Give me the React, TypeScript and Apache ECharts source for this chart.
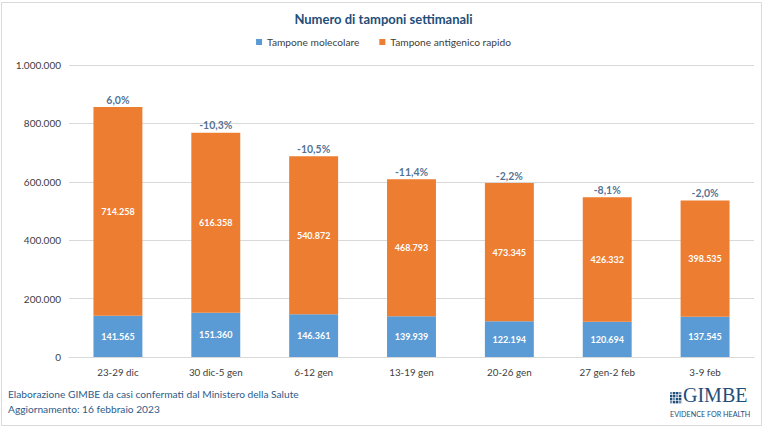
import React, { useEffect, useRef } from "react";
import * as echarts from "echarts";

const categories = ["23-29 dic", "30 dic-5 gen", "6-12 gen", "13-19 gen", "20-26 gen", "27 gen-2 feb", "3-9 feb"];
const molecolare = [141565, 151360, 146361, 139939, 122194, 120694, 137545];
const antigenico = [714258, 616358, 540872, 468793, 473345, 426332, 398535];
const variazione = ["6,0%", "-10,3%", "-10,5%", "-11,4%", "-2,2%", "-8,1%", "-2,0%"];
const yTicks = [0, 200000, 400000, 600000, 800000, 1000000];

const FONT = "Lato, 'Open Sans', sans-serif";
const fmt = (v: number) => v.toString().replace(/\B(?=(\d{3})+(?!\d))/g, ".");

export default function App() {
  const ref = useRef<HTMLDivElement>(null);
  useEffect(() => {
    document.body.style.margin = "0";
    const chart = echarts.init(ref.current!, undefined, { renderer: "svg" });
    const totals = molecolare.map((m, i) => m + antigenico[i]);
    const logoCells: any[] = [];
    for (let r = 0; r < 4; r++) {
      for (let c = 0; c < 4; c++) {
        logoCells.push({
          type: "rect",
          shape: { x: 670 + c * 3, y: 392 + r * 3, width: 2.4, height: 2.4 },
          style: { fill: (r + c) % 3 === 0 ? "#6F8FB5" : "#1F4E79" },
        });
      }
    }
    chart.setOption({
      animation: false,
      backgroundColor: "#ffffff",
      textStyle: { fontFamily: FONT },
      title: {
        text: "Numero di tamponi settimanali",
        left: "center",
        top: 7,
        textStyle: { fontSize: 13, fontWeight: "bold", color: "#1F4E79", fontFamily: FONT },
      },
      legend: {
        top: 32,
        left: "center",
        itemWidth: 6,
        itemHeight: 6,
        itemGap: 20,
        icon: "rect",
        textStyle: { fontSize: 10.2, color: "#404040", fontFamily: FONT },
        data: ["Tampone molecolare", "Tampone antigenico rapido"],
      },
      grid: { left: 69, right: 13, top: 65, bottom: 70, containLabel: false },
      xAxis: {
        type: "category",
        data: categories,
        axisLine: { lineStyle: { color: "#D9D9D9" } },
        axisTick: { show: false },
        axisLabel: { fontSize: 9.8, color: "#404040", margin: 10, fontFamily: FONT },
      },
      yAxis: {
        type: "value",
        min: 0,
        max: 1000000,
        interval: 200000,
        axisLine: { show: false },
        axisTick: { show: false },
        splitLine: { lineStyle: { color: "#D9D9D9" } },
        axisLabel: {
          fontSize: 10,
          color: "#404040",
          margin: 8,
          fontFamily: FONT,
          formatter: (v: number) => (yTicks.includes(v) ? fmt(v) : ""),
        },
      },
      series: [
        {
          name: "Tampone molecolare",
          type: "bar",
          stack: "t",
          barWidth: "50%",
          data: molecolare,
          itemStyle: { color: "#5B9BD5" },
          label: {
            show: true,
            position: "inside",
            color: "#ffffff",
            fontSize: 9,
            fontWeight: "bold",
            fontFamily: FONT,
            formatter: (p: any) => fmt(p.value),
          },
        },
        {
          name: "Tampone antigenico rapido",
          type: "bar",
          stack: "t",
          barWidth: "50%",
          data: antigenico,
          itemStyle: { color: "#ED7D31" },
          label: {
            show: true,
            position: "inside",
            color: "#ffffff",
            fontSize: 9,
            fontWeight: "bold",
            fontFamily: FONT,
            formatter: (p: any) => fmt(p.value),
          },
        },
        {
          name: "variazione",
          type: "scatter",
          data: totals,
          symbolSize: 0,
          silent: true,
          label: {
            show: true,
            position: "top",
            distance: 2,
            color: "#1F4E79",
            fontSize: 10.5,
            fontWeight: "bold",
            fontFamily: FONT,
            formatter: (p: any) => variazione[p.dataIndex],
          },
        },
      ],
      graphic: [
        {
          type: "rect",
          shape: { x: 1.5, y: 2.5, width: 760, height: 423 },
          style: { fill: "none", stroke: "#D9D9D9", lineWidth: 1 },
          silent: true,
        },
        {
          type: "text",
          x: 8,
          y: 389,
          style: { text: "Elaborazione GIMBE da casi confermati dal Ministero della Salute", fontSize: 10.2, fill: "#2E5C8A", fontFamily: FONT },
        },
        {
          type: "text",
          x: 8,
          y: 404,
          style: { text: "Aggiornamento: 16 febbraio 2023", fontSize: 10.2, fill: "#2E5C8A", fontFamily: FONT },
        },
        ...logoCells,
        {
          type: "text",
          x: 683,
          y: 386,
          style: { text: "GIMBE", fontSize: 20, lineHeight: 17, fill: "#1F4E79", fontFamily: "'Liberation Serif', 'DejaVu Serif', serif" },
        },
        {
          type: "text",
          x: 670,
          y: 410,
          style: { text: "EVIDENCE FOR HEALTH", fontSize: 7.2, lineHeight: 8, fill: "#1F4E79", fontFamily: FONT },
        },
      ],
    });
    return () => chart.dispose();
  }, []);
  return <div ref={ref} style={{ width: 767, height: 427 }} />;
}
